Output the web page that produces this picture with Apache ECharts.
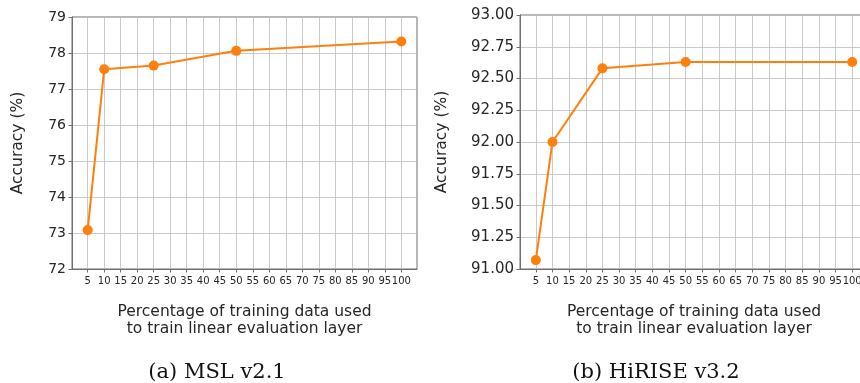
<!DOCTYPE html>
<html>
<head>
<meta charset="utf-8">
<script src="https://cdn.jsdelivr.net/npm/echarts@6/dist/echarts.min.js"></script>
<style>
  html, body { margin: 0; padding: 0; background: #fff; }
  #chart { width: 860px; height: 383px; }
</style>
</head>
<body>
<div id="chart"></div>
<script>
// Share of training data used (%) for the linear evaluation layer
const percentages = [5, 10, 25, 50, 100];
// Accuracy (%) per dataset
const mslAccuracy = [73.08, 77.55, 77.65, 78.06, 78.32];
const hiriseAccuracy = [91.07, 92.0, 92.58, 92.63, 92.63];
// x tick values shown under each plot
const xTicks = [5, 10, 15, 20, 25, 30, 35, 40, 45, 50, 55, 60, 65, 70, 75, 80, 85, 90, 95, 100];
// Panel captions and axis titles
const captions = ['(a) MSL v2.1', '(b) HiRISE v3.2'];
const xTitle = 'Percentage of training data used\nto train linear evaluation layer';
const yTitle = 'Accuracy (%)';

const ORANGE = '#ff7f0e';
const GRID_COLOR = '#bdbdbd';
const SPINE = '#6e6e6e';
const TEXT = '#262626';
const SANS = 'DejaVu Sans';

function xAxisFor(idx) {
  return {
    type: 'value', gridIndex: idx,
    min: 0.25, max: 104.75,
    axisLine: { show: true, onZero: false, lineStyle: { color: SPINE, width: 1 } },
    axisTick: { show: true, customValues: xTicks, length: 3.5, lineStyle: { color: SPINE } },
    axisLabel: { customValues: xTicks, fontSize: 10, color: TEXT, fontFamily: SANS, margin: 7 },
    splitLine: { show: true, customValues: xTicks, lineStyle: { color: GRID_COLOR, width: 0.8 } },
    name: xTitle, nameLocation: 'middle', nameGap: 34.5,
    nameTextStyle: { fontSize: 15.5, color: TEXT, fontFamily: SANS, lineHeight: 17 }
  };
}

function yAxisFor(idx, min, max, interval, digits, fontSize, gap) {
  return {
    type: 'value', gridIndex: idx, min: min, max: max, interval: interval,
    axisLine: { show: true, lineStyle: { color: SPINE, width: 1 } },
    axisTick: { show: true, length: 3.5, lineStyle: { color: SPINE } },
    axisLabel: {
      fontSize: fontSize, color: TEXT, fontFamily: SANS, margin: 6,
      formatter: v => v.toFixed(digits)
    },
    splitLine: { show: true, lineStyle: { color: GRID_COLOR, width: 0.8 } },
    name: yTitle, nameLocation: 'middle', nameGap: gap, nameRotate: 90,
    nameTextStyle: { fontSize: 15.5, color: TEXT, fontFamily: SANS }
  };
}

function seriesFor(idx, values) {
  return {
    type: 'line', xAxisIndex: idx, yAxisIndex: idx,
    data: percentages.map((p, i) => [p, values[i]]),
    color: ORANGE,
    lineStyle: { color: ORANGE, width: 2 },
    itemStyle: { color: ORANGE },
    symbol: 'circle', symbolSize: 10, showSymbol: true,
    animation: false, clip: false
  };
}

const chart = echarts.init(document.getElementById('chart'), null, { renderer: 'canvas' });
chart.setOption({
  backgroundColor: '#ffffff',
  animation: false,
  grid: [
    { left: 72, top: 17, right: 443, bottom: 114, outerBoundsMode: 'none',
      show: true, borderColor: SPINE, borderWidth: 1, backgroundColor: 'transparent' },
    // the second panel runs past the right edge of the canvas
    { left: 520, top: 15, width: 348, bottom: 114, outerBoundsMode: 'none',
      show: true, borderColor: SPINE, borderWidth: 1, backgroundColor: 'transparent' }
  ],
  xAxis: [xAxisFor(0), xAxisFor(1)],
  yAxis: [
    yAxisFor(0, 72, 79, 1, 0, 14, 46),
    yAxisFor(1, 91, 93, 0.25, 2, 15, 70)
  ],
  series: [seriesFor(0, mslAccuracy), seriesFor(1, hiriseAccuracy)],
  title: [
    { text: captions[0], left: 212, top: 357, textAlign: 'center',
      textStyle: { fontFamily: 'DejaVu Serif', fontWeight: 'normal', fontSize: 21, color: '#111' } },
    { text: captions[1], left: 651, top: 357, textAlign: 'center',
      textStyle: { fontFamily: 'DejaVu Serif', fontWeight: 'normal', fontSize: 21, color: '#111' } }
  ]
});
</script>
</body>
</html>
